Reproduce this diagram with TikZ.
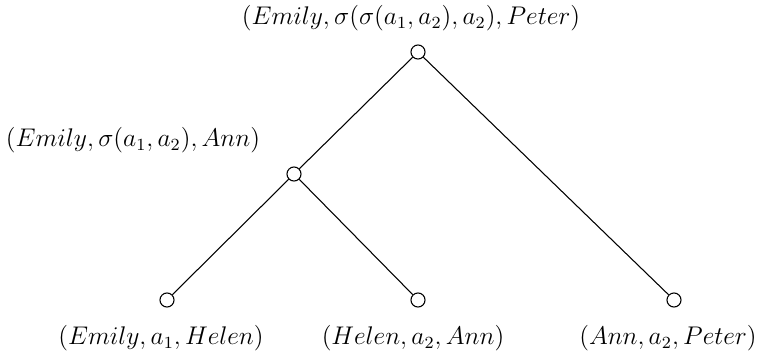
\documentclass[tikz,border=0pt]{standalone}
\usepackage{tikz}
\usetikzlibrary{positioning}

\tikzset{
  vert/.style={circle, draw, line width=0.5pt, minimum size=6.6pt, inner sep=0pt},
  lbl/.style={inner sep=0pt, font=\large}
}

\begin{document}
\begin{tikzpicture}[x=0.47pt, y=-0.47pt, line join=round]
          \useasboundingbox (0,0) rectangle (758,360);
          % vertices
          \node[vert] (root) at (418,52) {};
          \node[vert] (mid) at (294,174) {};
          \node[vert] (lfa) at (167,300) {};
          \node[vert] (lfb) at (418,300) {};
          \node[vert] (lfc) at (674,300) {};
          % edges
          \draw[line width=0.5pt] (root) -- (mid);
          \draw[line width=0.5pt] (root) -- (lfc);
          \draw[line width=0.5pt] (mid) -- (lfa);
          \draw[line width=0.5pt] (mid) -- (lfb);
          % labels
          \node[lbl] (rootlbl) at (411,18) {$(Emily,\sigma(\sigma(a_1,a_2),a_2),Peter)$};
          \node[lbl] (midlbl) at (133,140) {$(Emily,\sigma(a_1,a_2),Ann)$};
          \node[lbl] (lfalbl) at (161,338) {$(Emily,a_1,Helen)$};
          \node[lbl] (lfblbl) at (413,338) {$(Helen,a_2,Ann)$};
          \node[lbl] (lfclbl) at (668,338) {$(Ann,a_2,Peter)$};
        \end{tikzpicture}
\end{document}
